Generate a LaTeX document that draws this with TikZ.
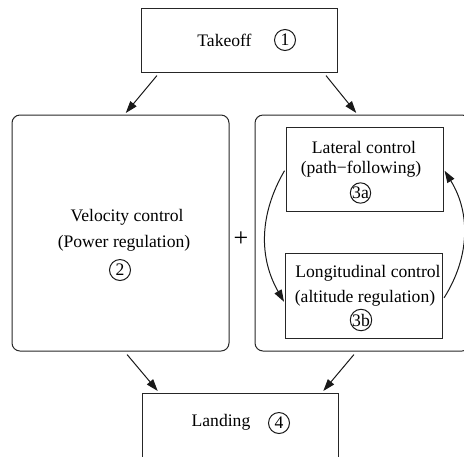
\documentclass[tikz,border=0pt]{standalone}
\usepackage{fontspec}
\setmainfont{Liberation Serif}
\usetikzlibrary{arrows.meta}

\begin{document}
\begin{tikzpicture}[x=0.5pt,y=-0.5pt,font=\fontsize{8.8}{10.5}\selectfont,line width=0.5pt]
	\tikzstyle{box}=[draw=black!85,minimum width=98pt,minimum height=32pt]
	\tikzstyle{group}=[draw=black!85,rounded corners=4pt,minimum height=118pt]
	\tikzstyle{inner}=[draw=black!85,minimum width=78.5pt,minimum height=42pt]
	\tikzstyle{num}=[circle,draw=black!90,inner sep=0pt,minimum size=10.5pt]
	\tikzstyle{subnum}=[num,minimum size=8.5pt]
	\tikzstyle{arr}=[draw=black!90,-{Triangle[length=6pt,width=4pt]},shorten <=2pt,shorten >=1pt]

	\useasboundingbox (0,0) rectangle (464,456);

	% stage boxes
	\node [box] (takeoff) at (239,40) {};
	\node [group,minimum width=108.5pt] (velocity) at (120.5,233) {};
	\node [group,minimum width=107.5pt] (path) at (362.5,233) {};
	\node [inner] (lateral) at (364.5,169) {};
	\node [inner,minimum height=42.5pt] (longi) at (364,295.5) {};
	\node [box] (landing) at (240.5,425) {};

	% texts
	\node (t1) at (224.5,40) {Takeoff};
	\node [num] (n1) at (285,40) {1};
	\node (t2a) at (127,217) {Velocity control};
	\node (t2b) at (124,243) {(Power regulation)};
	\node [num] (n2) at (120,270) {2};
	\node (plus) at (241,239) {\fontsize{13}{14}\selectfont +};
	\node (t3a) at (364,147) {Lateral control};
	\node (t3b) at (361,169) {(path−following)};
	\node [subnum] (n3a) at (360.5,193) {3a};
	\node (t3c) at (368,273) {Longitudinal control};
	\node (t3d) at (365,298) {(altitude regulation)};
	\node [subnum] (n3b) at (361,320) {3b};
	\node (t4) at (221,422) {Landing};
	\node [num] (n4) at (279,423) {4};

	% flow
	\path[arr] ([xshift=9.5pt]takeoff.south west) -- ([xshift=56.5pt]velocity.north west);
	\path[arr] ([xshift=-7pt]takeoff.south east) -- ([xshift=51.5pt]path.north west);
	\path[arr] ([xshift=56.5pt]velocity.south west) -- ([xshift=8.5pt]landing.north west);
	\path[arr] ([xshift=51pt]path.south west) -- ([xshift=-8.5pt]landing.north east);
	\path[arr,shorten <=1pt] (lateral.west) to[bend right=30] ([yshift=-4pt]longi.west);
	\path[arr,shorten <=1pt] ([yshift=-2pt]longi.east) to[bend right=32] (lateral.east);
\end{tikzpicture}
\end{document}
